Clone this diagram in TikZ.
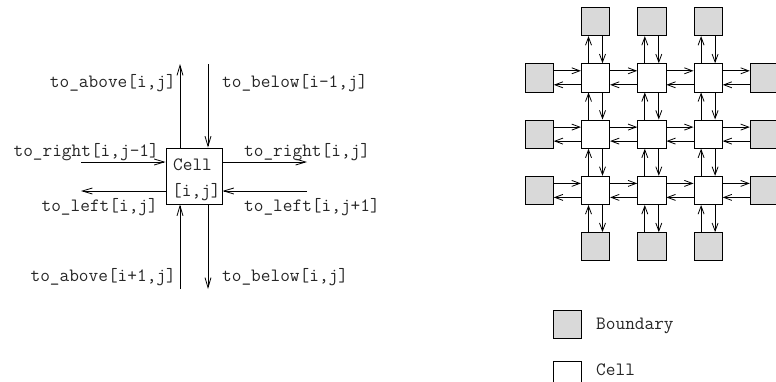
\documentclass[tikz,border=0pt]{standalone}
\usetikzlibrary{arrows.meta}
\tikzset{
  lbl/.style={inner sep=0pt, text=black!85, font=\ttfamily\fontsize{18.8}{20}\selectfont},
  bigcell/.style={draw, line width=0.9pt, minimum size=56pt, inner sep=0pt, fill=white},
  gcell/.style={draw, line width=0.9pt, minimum size=28.3pt, inner sep=0pt, fill=white},
  gbound/.style={gcell, fill=black!15},
  conn/.style={line width=0.8pt, -{Straight Barb[length=10pt,width=6pt,line width=0.8pt]}},
  gconn/.style={line width=0.8pt, -{Straight Barb[length=8pt,width=6pt,line width=0.8pt]}}
}
\begin{document}
\begin{tikzpicture}[x=1pt,y=-1pt]
\useasboundingbox (0,0) rectangle (776,381);
% ---------- left diagram ----------
\node[bigcell] (cell) at (194,176) {};
\node[lbl, anchor=west] (cellA) at (173,165) {Cell};
\node[lbl, anchor=west] (cellB) at (172,192) {[i,j]};
\coordinate (tA) at (180,64);
\coordinate (tB) at (208,64);
\coordinate (bA) at (180,289);
\coordinate (bB) at (208,289);
\coordinate (lA) at (81,162);
\coordinate (lB) at (81,191);
\coordinate (rA) at (307,162);
\coordinate (rB) at (307,191);
\draw[conn] (cell.north -| tA) -- (tA);
\draw[conn] (tB) -- (cell.north -| tB);
\draw[conn] (bA) -- (cell.south -| bA);
\draw[conn] (cell.south -| bB) -- (bB);
\draw[conn] (lA) -- (cell.west |- lA);
\draw[conn] (cell.west |- lB) -- (lB);
\draw[conn] (cell.east |- rA) -- (rA);
\draw[conn] (rB) -- (cell.east |- rB);
\node[lbl, anchor=east] (l1) at (176,83) {to\_above[i,j]};
\node[lbl, anchor=west] (l2) at (222,83) {to\_below[i-1,j]};
\node[lbl, anchor=east] (l3) at (159,152) {to\_right[i,j-1]};
\node[lbl, anchor=west] (l4) at (244,152) {to\_right[i,j]};
\node[lbl, anchor=east] (l5) at (158,207) {to\_left[i,j]};
\node[lbl, anchor=west] (l6) at (244,207) {to\_left[i,j+1]};
\node[lbl, anchor=east] (l7) at (176,277) {to\_above[i+1,j]};
\node[lbl, anchor=west] (l8) at (222,277) {to\_below[i,j]};
% ---------- right grid ----------
\foreach \r in {1,2,3} {
  \foreach \c in {1,2,3} {
    \node[gcell] (g-\r-\c) at ({539.2+56.3*\c},{21.5+56.3*\r}) {};
  }
}
\foreach \k in {1,2,3} {
  \node[gbound] (g-0-\k) at ({539.2+56.3*\k},21.5) {};
  \node[gbound] (g-4-\k) at ({539.2+56.3*\k},{21.5+56.3*4}) {};
  \node[gbound] (g-\k-0) at (539.2,{21.5+56.3*\k}) {};
  \node[gbound] (g-\k-4) at ({539.2+56.3*4},{21.5+56.3*\k}) {};
}
% horizontal connectors
\foreach \r in {1,2,3} {
  \foreach \c/\n in {0/1,1/2,2/3,3/4} {
    \draw[gconn] ([yshift=7pt]g-\r-\c.east) -- ([yshift=7pt]g-\r-\n.west);
    \draw[gconn] ([yshift=-7pt]g-\r-\n.west) -- ([yshift=-7pt]g-\r-\c.east);
  }
}
% vertical connectors
\foreach \c in {1,2,3} {
  \foreach \r/\n in {0/1,1/2,2/3,3/4} {
    \draw[gconn] ([xshift=-7pt]g-\n-\c.north) -- ([xshift=-7pt]g-\r-\c.south);
    \draw[gconn] ([xshift=7pt]g-\r-\c.south) -- ([xshift=7pt]g-\n-\c.north);
  }
}
% ---------- legend ----------
\node[gbound] (legB) at (567.2,324.5) {};
\node[gcell] (legC) at (567.2,376) {};
\node[lbl, anchor=west] (legBt) at (596,326) {Boundary};
\node[lbl, anchor=west] (legCt) at (596,370) {Cell};
\end{tikzpicture}
\end{document}
